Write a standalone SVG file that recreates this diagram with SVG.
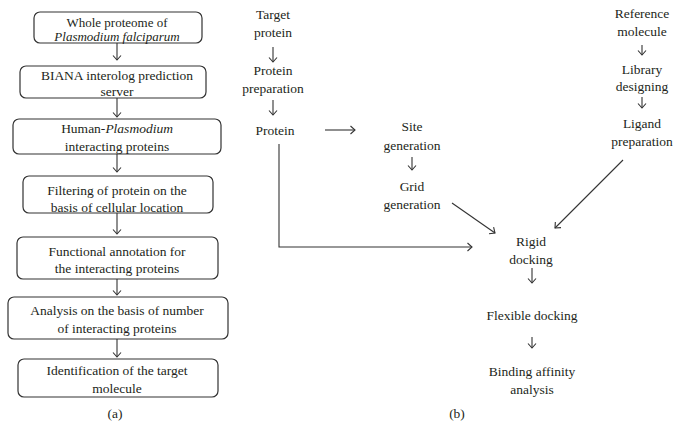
<svg xmlns="http://www.w3.org/2000/svg" width="682" height="441" viewBox="0 0 682 441">
<defs>
<style>
text{font-family:"Liberation Serif","Times New Roman",serif;font-size:13.5px;fill:#231f20;text-anchor:middle}
.box{fill:#fff;stroke:#333;stroke-width:1.2}
.ln{fill:none;stroke:#333;stroke-width:1.1}
.sm{font-size:13px}
</style>
<marker id="ah" viewBox="-6 -6 12 12" refX="0" refY="0" markerWidth="12" markerHeight="12" markerUnits="userSpaceOnUse" orient="auto">
<path d="M-4.5,-4 L0,0 L-4.5,4" fill="none" stroke="#333" stroke-width="1.1"/>
</marker>
</defs>
<rect width="682" height="441" fill="#fff"/>
<g id="connectors">
<line class="ln" x1="117" y1="43" x2="117" y2="60" marker-end="url(#ah)"/>
<line class="ln" x1="117" y1="98" x2="117" y2="117" marker-end="url(#ah)"/>
<line class="ln" x1="117" y1="154" x2="117" y2="172" marker-end="url(#ah)"/>
<line class="ln" x1="117" y1="213" x2="117" y2="234" marker-end="url(#ah)"/>
<line class="ln" x1="117" y1="279" x2="117" y2="295" marker-end="url(#ah)"/>
<line class="ln" x1="117" y1="339" x2="117" y2="357" marker-end="url(#ah)"/>
<line class="ln" x1="273" y1="47" x2="273" y2="62" marker-end="url(#ah)"/>
<line class="ln" x1="273" y1="100" x2="273" y2="115" marker-end="url(#ah)"/>
<line class="ln" x1="325" y1="130" x2="355" y2="130" marker-end="url(#ah)"/>
<line class="ln" x1="412" y1="157" x2="412" y2="170" marker-end="url(#ah)"/>
<line class="ln" x1="452" y1="203" x2="495" y2="233" marker-end="url(#ah)"/>
<path class="ln" d="M279,144 V247 H472" marker-end="url(#ah)"/>
<line class="ln" x1="623" y1="160" x2="555" y2="228" marker-end="url(#ah)"/>
<line class="ln" x1="642" y1="45" x2="642" y2="55" marker-end="url(#ah)"/>
<line class="ln" x1="642" y1="97" x2="642" y2="108" marker-end="url(#ah)"/>
<line class="ln" x1="532" y1="268" x2="532" y2="283" marker-end="url(#ah)"/>
<line class="ln" x1="532" y1="337" x2="532" y2="348" marker-end="url(#ah)"/>
</g>
<g id="a1"><rect class="box" x="34" y="12" width="168" height="31" rx="6"/><text class="sm" x="117" y="26.5">Whole proteome of</text><text class="sm" x="117" y="41" font-style="italic">Plasmodium falciparum</text></g>
<g id="a2"><rect class="box" x="20" y="66" width="186" height="32" rx="6"/><text x="117" y="80">BIANA interolog prediction</text><text x="117" y="96">server</text></g>
<g id="a3"><rect class="box" x="13" y="119" width="208" height="35" rx="6"/><text x="117" y="133">Human-<tspan font-style="italic">Plasmodium</tspan></text><text x="117" y="151">interacting proteins</text></g>
<g id="a4"><rect class="box" x="23" y="176" width="190" height="37" rx="6"/><text x="117" y="195">Filtering of protein on the</text><text x="117" y="212">basis of cellular location</text></g>
<g id="a5"><rect class="box" x="17" y="237" width="201" height="42" rx="6"/><text x="117" y="256">Functional annotation for</text><text x="117" y="273">the interacting proteins</text></g>
<g id="a6"><rect class="box" x="8" y="297" width="220" height="42" rx="6"/><text x="117" y="315">Analysis on the basis of number</text><text x="117" y="333">of interacting proteins</text></g>
<g id="a7"><rect class="box" x="18" y="359" width="200" height="38" rx="6"/><text x="117" y="375">Identification of the target</text><text x="117" y="393">molecule</text></g>
<g id="label-a"><text x="115" y="418">(a)</text></g>
<g id="target"><text x="273" y="19">Target</text><text x="273" y="37">protein</text></g>
<g id="prep"><text x="273" y="75">Protein</text><text x="273" y="93">preparation</text></g>
<g id="protein"><text x="275" y="135">Protein</text></g>
<g id="site"><text x="412" y="131">Site</text><text x="412" y="150">generation</text></g>
<g id="grid"><text x="412" y="191">Grid</text><text x="412" y="209">generation</text></g>
<g id="ref"><text x="642" y="18">Reference</text><text x="642" y="36">molecule</text></g>
<g id="lib"><text x="642" y="74">Library</text><text x="642" y="91">designing</text></g>
<g id="ligand"><text x="642" y="128">Ligand</text><text x="642" y="146">preparation</text></g>
<g id="rigid"><text x="531" y="246">Rigid</text><text x="531" y="264">docking</text></g>
<g id="flex"><text x="532" y="320">Flexible docking</text></g>
<g id="bind"><text x="532" y="376">Binding affinity</text><text x="532" y="394">analysis</text></g>
<g id="label-b"><text x="457" y="418">(b)</text></g>
</svg>
